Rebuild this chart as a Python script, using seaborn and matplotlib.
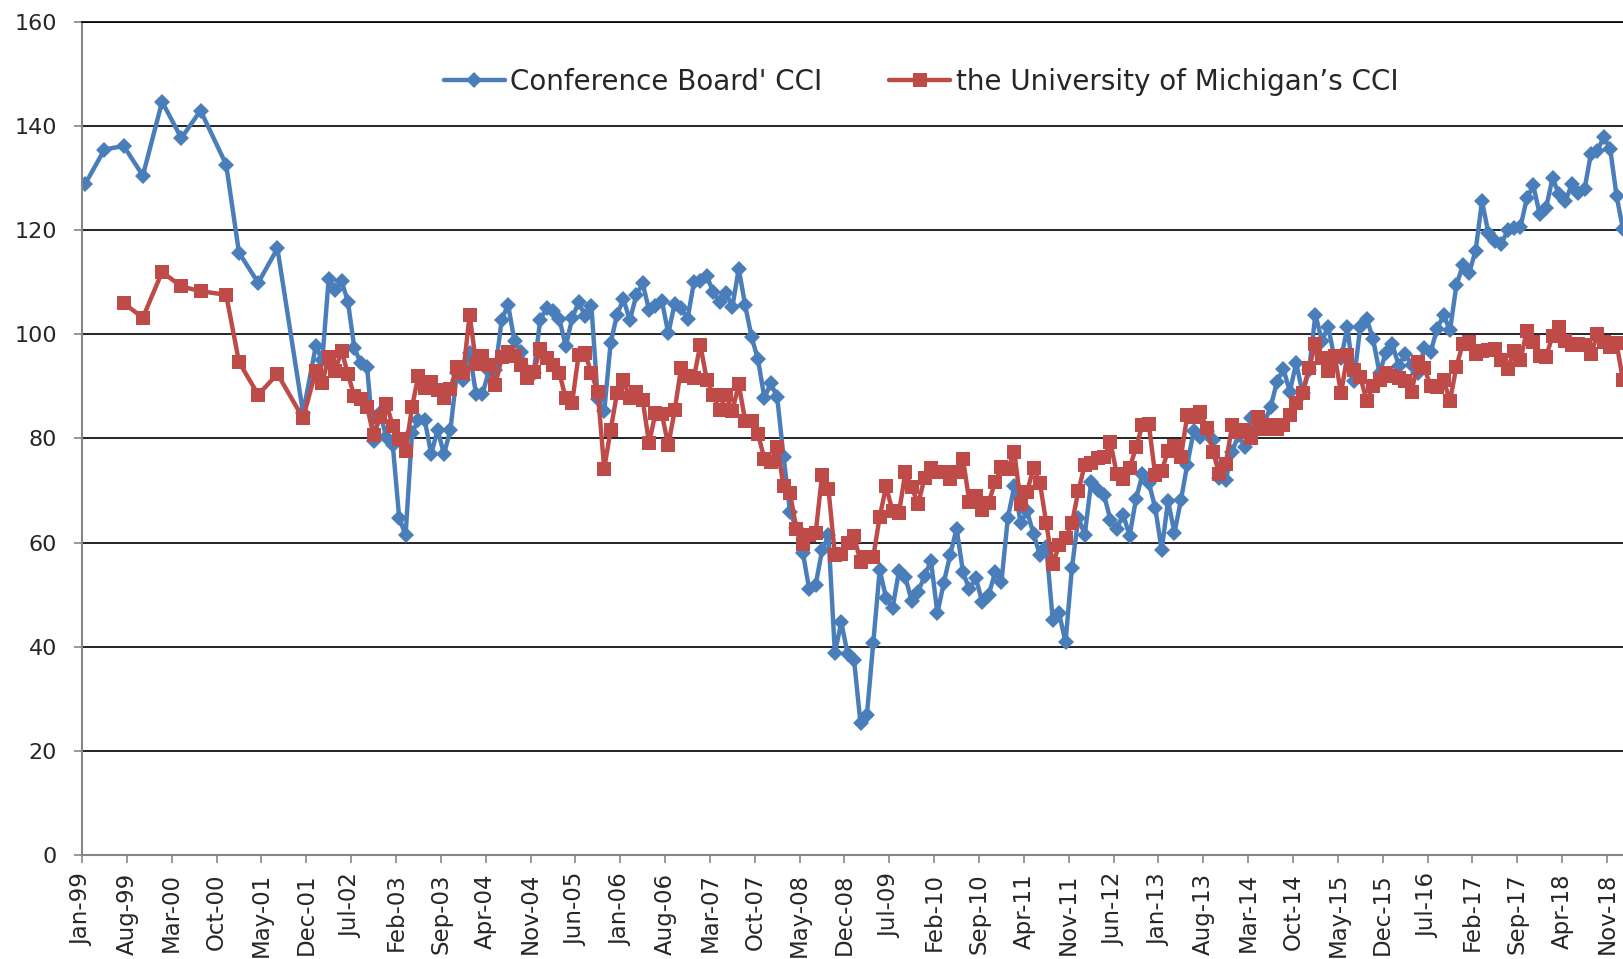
import pandas as pd
import seaborn as sns
import matplotlib
matplotlib.use("Agg")
import matplotlib.pyplot as plt

# month index counted from Jan-99 (0); early readings are sparse
early_cb_month = [0, 3, 6, 9, 12, 15, 18, 22, 24, 27, 30, 34]
early_cb = [128.9, 135.5, 136.2, 130.5, 144.7, 137.7, 143.0, 132.6, 115.7, 109.9, 116.5, 84.9]
early_um_month = [6, 9, 12, 15, 18, 22, 24, 27, 30, 34]
early_um = [106.0, 103.2, 112.0, 109.2, 108.3, 107.6, 94.7, 88.4, 92.4, 83.9]

# monthly readings, Jan-02 .. Jan-19
cb_monthly = [
    97.8, 95.0, 110.7, 108.5, 110.3, 106.3, 97.4, 94.5, 93.7, 79.6, 84.9, 80.3,      # 2002
    78.8, 64.8, 61.4, 81.0, 83.6, 83.5, 77.0, 81.7, 77.0, 81.7, 92.5, 91.3,          # 2003
    96.4, 88.5, 88.5, 93.0, 93.1, 102.8, 105.7, 98.7, 96.7, 92.9, 92.6, 102.7,       # 2004
    105.1, 104.4, 103.0, 97.7, 103.1, 106.2, 103.6, 105.5, 87.5, 85.2, 98.3, 103.8,  # 2005
    106.8, 102.7, 107.5, 109.8, 104.7, 105.4, 106.5, 100.2, 105.9, 105.1, 102.9, 110.0,  # 2006
    110.2, 111.2, 108.2, 106.3, 108.0, 105.3, 112.6, 105.6, 99.5, 95.2, 87.8, 90.6,  # 2007
    87.9, 76.4, 65.9, 62.8, 58.1, 51.0, 51.9, 58.5, 61.4, 38.8, 44.7, 38.6,          # 2008
    37.4, 25.3, 26.9, 40.8, 54.8, 49.3, 47.4, 54.5, 53.4, 48.7, 50.6, 53.6,          # 2009
    56.5, 46.4, 52.3, 57.7, 62.7, 54.3, 51.0, 53.2, 48.6, 49.9, 54.3, 52.5,          # 2010
    64.8, 70.8, 63.8, 66.0, 61.7, 57.6, 59.2, 45.2, 46.4, 40.9, 55.2, 64.8,          # 2011
    61.5, 71.6, 70.2, 69.2, 64.4, 62.7, 65.4, 61.3, 68.4, 73.1, 71.5, 66.7,          # 2012
    58.6, 68.0, 61.9, 68.1, 75.0, 81.4, 80.3, 81.5, 79.7, 72.4, 72.0, 77.5,          # 2013
    80.7, 78.3, 83.9, 82.3, 83.0, 86.0, 90.9, 93.4, 89.0, 94.5, 88.7, 93.1,          # 2014
    103.8, 98.8, 101.4, 95.2, 95.4, 101.4, 91.0, 101.5, 103.0, 99.1, 92.6, 96.5,     # 2015
    98.1, 94.0, 96.2, 94.2, 92.6, 97.4, 96.7, 101.1, 103.7, 100.8, 109.4, 113.3,     # 2016
    111.8, 116.1, 125.6, 119.4, 117.9, 117.3, 120.0, 120.4, 120.6, 126.2, 128.6, 123.1,  # 2017
    124.3, 130.0, 127.0, 125.6, 128.8, 127.1, 127.9, 134.7, 135.3, 137.9, 135.7, 126.6,  # 2018
    120.2,                                                                           # 2019
]
um_monthly = [
    93.0, 90.7, 95.7, 93.0, 96.9, 92.4, 88.1, 87.6, 86.1, 80.6, 84.2, 86.7,          # 2002
    82.4, 79.9, 77.6, 86.0, 92.1, 89.7, 90.9, 89.3, 87.7, 89.6, 93.7, 92.6,          # 2003
    103.8, 94.4, 95.8, 94.2, 90.2, 95.6, 96.7, 95.9, 94.2, 91.7, 92.8, 97.1,         # 2004
    95.5, 94.1, 92.6, 87.7, 86.9, 96.0, 96.5, 92.5, 89.0, 74.2, 81.6, 88.7,          # 2005
    91.2, 87.7, 88.9, 87.4, 79.1, 84.9, 84.7, 78.7, 85.4, 93.6, 92.1, 91.7,          # 2006
    98.0, 91.3, 88.4, 85.5, 88.3, 85.3, 90.4, 83.4, 83.4, 80.9, 76.1, 75.5,          # 2007
    78.4, 70.8, 69.5, 62.6, 59.8, 61.4, 61.8, 73.0, 70.3, 57.6, 57.9, 59.9,          # 2008
    61.2, 56.3, 57.3, 57.3, 65.0, 70.8, 66.0, 65.7, 73.5, 70.6, 67.4, 72.5,          # 2009
    74.4, 73.6, 73.6, 72.2, 73.6, 76.0, 67.8, 68.9, 66.3, 67.7, 71.6, 74.5,          # 2010
    74.2, 77.5, 67.5, 69.8, 74.3, 71.5, 63.7, 55.8, 59.5, 60.8, 63.7, 69.9,          # 2011
    75.0, 75.3, 76.2, 76.4, 79.3, 73.2, 72.3, 74.3, 78.3, 82.6, 82.7, 72.9,          # 2012
    73.8, 77.6, 78.6, 76.4, 84.5, 84.1, 85.1, 82.1, 77.5, 73.2, 75.1, 82.5,          # 2013
    81.2, 81.6, 80.0, 84.1, 81.9, 82.5, 81.8, 82.5, 84.6, 86.9, 88.8, 93.6,          # 2014
    98.1, 95.4, 93.0, 95.9, 88.7, 96.1, 93.1, 91.9, 87.2, 90.0, 91.3, 92.6,          # 2015
    92.0, 91.7, 91.0, 89.0, 94.7, 93.5, 90.0, 89.8, 91.2, 87.2, 93.8, 98.2,          # 2016
    98.5, 96.3, 96.9, 97.0, 97.1, 95.0, 93.4, 96.8, 95.1, 100.7, 98.5, 95.9,         # 2017
    95.7, 99.7, 101.4, 98.8, 98.0, 98.2, 97.9, 96.2, 100.1, 98.6, 97.5, 98.3,        # 2018
    91.2,                                                                            # 2019
]

tick_labels = [
    "Jan-99", "Aug-99", "Mar-00", "Oct-00", "May-01", "Dec-01", "Jul-02", "Feb-03",
    "Sep-03", "Apr-04", "Nov-04", "Jun-05", "Jan-06", "Aug-06", "Mar-07", "Oct-07",
    "May-08", "Dec-08", "Jul-09", "Feb-10", "Sep-10", "Apr-11", "Nov-11", "Jun-12",
    "Jan-13", "Aug-13", "Mar-14", "Oct-14", "May-15", "Dec-15", "Jul-16", "Feb-17",
    "Sep-17", "Apr-18", "Nov-18",
]

cb_label = "Conference Board' CCI"
um_label = "the University of Michigan\u2019s CCI"

start = 36  # Jan-02
cb = pd.DataFrame({
    "month": early_cb_month + list(range(start, start + len(cb_monthly))),
    "value": early_cb + cb_monthly,
})
um = pd.DataFrame({
    "month": early_um_month + list(range(start, start + len(um_monthly))),
    "value": early_um + um_monthly,
})
# readings are dated mid-month on the date axis
cb["x"] = cb["month"] + 0.5
um["x"] = um["month"] + 0.5

sns.set_style("ticks")
plt.rcParams["font.family"] = ["DejaVu Sans"]

fig = plt.figure(figsize=(16.23, 9.59), dpi=100)
# plot area runs past the right edge of the picture (cropped like the original)
ax = fig.add_axes([82 / 1623, 104 / 959, 1557 / 1623, 833 / 959])

blue = "#4A7EBB"
red = "#BE4B48"
sns.lineplot(data=cb, x="x", y="value", ax=ax, color=blue, lw=3.2,
             marker="D", markersize=8, markeredgewidth=0, label=cb_label)
sns.lineplot(data=um, x="x", y="value", ax=ax, color=red, lw=3.2,
             marker="s", markersize=10, markeredgewidth=0, label=um_label)

ax.set_xlim(0, 243)
ax.set_ylim(0, 160)
ax.set_yticks(range(0, 161, 20))
ax.set_xticks(range(0, 7 * len(tick_labels), 7))
ax.set_xticklabels(tick_labels, rotation=90)
ax.set_xlabel("")
ax.set_ylabel("")

ax.yaxis.grid(True, color="black", lw=1.2)
ax.xaxis.grid(False)
ax.set_axisbelow(True)

gray = "#868686"
for side in ["left", "bottom"]:
    ax.spines[side].set_color(gray)
    ax.spines[side].set_linewidth(1.5)
ax.spines["top"].set_color("black")
ax.spines["top"].set_linewidth(1.2)
ax.spines["right"].set_visible(False)
ax.tick_params(axis="y", length=6, width=1.2, color=gray, pad=12, labelsize=16)
ax.tick_params(axis="x", length=6, width=1.2, color=gray, pad=7, labelsize=16.5)

ax.legend(loc="center", bbox_to_anchor=(0.539, 0.928), ncol=2, frameon=False,
          fontsize=20, handlelength=2.2, handletextpad=0.2, columnspacing=2.4)

fig.savefig("out.png", dpi=100)
